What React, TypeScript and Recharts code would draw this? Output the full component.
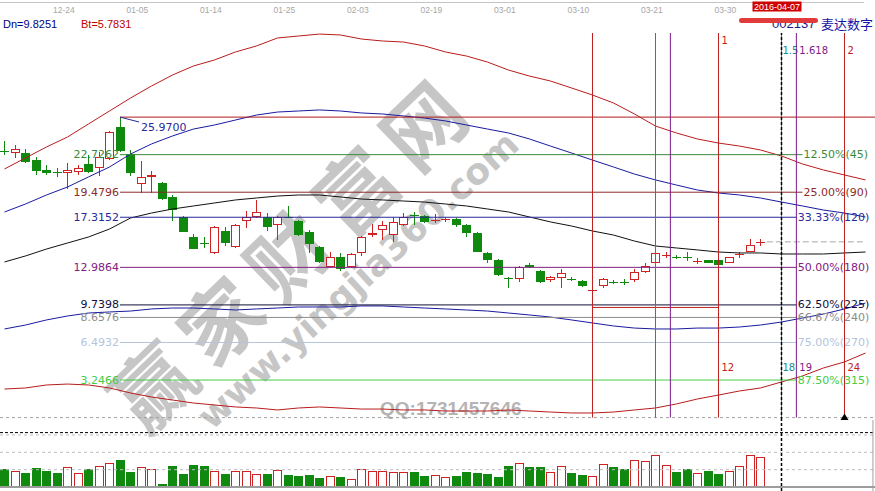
import React from 'react';
import { ComposedChart, Bar, Line, XAxis, YAxis, ReferenceLine, ReferenceDot } from 'recharts';

// trading days shown (2015-12-17 .. 2016-04-06)
const dates = [
  '12-17', '12-18', '12-21', '12-22', '12-23', '12-24', '12-25', '12-28', '12-29', '12-30', '12-31',
  '01-04', '01-05', '01-06', '01-07', '01-08', '01-11', '01-12', '01-13', '01-14', '01-15',
  '01-18', '01-19', '01-20', '01-21', '01-22', '01-25', '01-26', '01-27', '01-28', '01-29',
  '02-01', '02-02', '02-03', '02-04', '02-05', '02-15', '02-16', '02-17', '02-18', '02-19',
  '02-22', '02-23', '02-24', '02-25', '02-26', '02-29', '03-01', '03-02', '03-03', '03-04',
  '03-07', '03-08', '03-09', '03-10', '03-11', '03-14', '03-15', '03-16', '03-17', '03-18',
  '03-21', '03-22', '03-23', '03-24', '03-25', '03-28', '03-29', '03-30', '03-31', '04-01',
  '04-05', '04-06',
];

const opens = [
  23.06, 22.87, 22.87, 22.26, 21.4, 21.27, 21.14, 21.23, 21.92, 21.57,
  22.35, 25.12, 22.78, 20.19, 20.79, 20.28, 19.07, 17.34, 15.61, 15.11,
  14.23, 16.13, 14.74, 16.99, 17.34, 17.34, 16.65, 17.36, 16.99, 16.04,
  14.74, 13.02, 13.88, 13.02, 14.23, 15.78, 16.21, 15.78, 16.65, 17.53,
  17.42, 17.06, 17.15, 17.16, 16.65, 15.95, 14.23, 13.62, 12.09, 11.98,
  13.19, 12.67, 11.89, 12.07, 12.0, 11.81, 11.01, 11.37, 11.74, 11.74,
  11.89, 12.58, 13.36, 14.02, 13.9, 13.9, 13.52, 13.62, 13.62, 13.36,
  14.12, 14.31, 15.17,
];
const highs = [
  23.91, 23.56, 23.21, 22.52, 21.83, 21.57, 22.0, 21.83, 22.7, 22.96,
  24.77, 25.97, 23.13, 22.18, 21.31, 20.36, 19.24, 17.42, 15.87, 15.61,
  16.56, 16.47, 16.73, 17.86, 18.81, 17.68, 17.42, 18.29, 17.08, 16.21,
  14.83, 14.31, 14.23, 14.23, 15.69, 16.73, 16.99, 17.34, 17.68, 17.77,
  17.51, 17.6, 17.34, 17.21, 16.73, 16.04, 14.31, 13.71, 12.15, 13.1,
  13.36, 12.76, 12.24, 12.84, 12.15, 11.89, 11.37, 12.07, 11.89, 11.98,
  12.84, 13.36, 14.31, 14.31, 14.05, 14.31, 13.79, 13.66, 13.66, 13.92,
  14.31, 15.44, 15.44,
];
const lows = [
  22.7, 22.44, 22.0, 20.97, 20.97, 20.79, 19.76, 20.97, 21.14, 20.88,
  22.26, 22.96, 20.88, 19.41, 19.41, 18.85, 16.99, 16.0, 14.53, 14.66,
  14.18, 14.83, 14.66, 16.4, 17.25, 16.13, 15.35, 17.21, 15.69, 14.23,
  13.36, 12.93, 12.67, 12.93, 13.97, 15.61, 15.35, 15.18, 16.6, 16.65,
  16.82, 16.82, 16.9, 16.47, 15.61, 14.27, 13.36, 12.24, 11.2, 11.72,
  12.93, 11.63, 11.72, 11.2, 11.81, 11.29, 10.98, 11.2, 11.55, 11.46,
  11.72, 12.5, 13.32, 13.79, 13.71, 13.54, 13.28, 13.32, 13.15, 13.32,
  13.79, 14.27, 14.83,
];
const closes = [
  23.02, 23.21, 22.09, 21.31, 21.14, 21.23, 21.4, 21.57, 21.23, 22.52,
  24.68, 23.04, 21.14, 20.79, 20.97, 18.89, 17.94, 16.04, 14.57, 15.07,
  16.47, 15.09, 16.65, 17.34, 17.77, 16.47, 17.34, 17.32, 15.78, 15.0,
  13.45, 13.88, 12.84, 14.14, 15.61, 15.95, 16.65, 16.9, 17.34, 17.49,
  16.9, 17.1, 17.19, 16.65, 15.95, 14.31, 13.62, 12.32, 12.05, 13.02,
  13.02, 11.72, 12.15, 12.5, 11.96, 11.37, 11.05, 11.98, 11.7, 11.7,
  12.58, 13.1, 14.23, 14.06, 13.86, 13.86, 13.56, 13.36, 13.19, 13.88,
  14.16, 14.92, 15.21,
];
const volumes = [
  17.7, 16.3, 14, 19, 16.3, 14, 20, 14.3, 17.7, 21,
  23.7, 27, 15, 19.7, 17.7, 3, 21.3, 13, 22, 21,
  16.3, 13, 16.3, 16.3, 13, 13, 17, 11.7, 11, 12,
  8.7, 11, 9.7, 7.7, 17.7, 16.3, 16.3, 15.3, 15.3, 15.3,
  11, 12, 9.7, 11, 15.3, 14.3, 13, 10.3, 21, 24.3,
  20.3, 20.3, 15, 21, 14.3, 12, 11, 23, 20.3, 17.7,
  27, 26.3, 32, 22, 15.3, 17.7, 13.7, 16.3, 13, 16.3,
  21, 32, 29.7,
];

// band lines, read every second day (index 0, 2, 4 ... 82)
const upper2 = [
  21.49, 22.44, 23.39, 24.25, 25.38, 26.5, 27.62, 28.66, 29.61, 30.39, 30.91, 31.6, 32.12, 32.81,
  32.98, 33.15, 33.07, 32.72, 32.55, 32.46, 32.12, 31.6, 31.25, 30.73, 30.04, 29.52, 29.09, 28.49,
  27.88, 27.19, 26.24, 25.2, 24.6, 24.08, 23.73, 23.47, 23.13, 22.61, 21.92, 21.4, 20.97, 20.54,
];
const upper1 = [
  17.77, 18.46, 19.24, 19.93, 20.8, 21.66, 22.78, 23.65, 24.34, 24.94, 25.29, 25.72, 26.15, 26.41,
  26.5, 26.59, 26.5, 26.33, 26.24, 26.07, 25.89, 25.64, 25.29, 24.94, 24.6, 24.08, 23.47, 22.87,
  22.26, 21.66, 21.05, 20.54, 20.1, 19.67, 19.41, 19.24, 18.98, 18.63, 18.29, 17.94, 17.68, 17.34,
];
const middle = [
  13.45, 13.97, 14.57, 15.09, 15.61, 16.3, 17.25, 17.68, 18.03, 18.29, 18.55, 18.81, 18.98, 19.15,
  19.24, 19.24, 19.07, 18.89, 18.81, 18.72, 18.63, 18.46, 18.29, 18.03, 17.77, 17.34, 16.91, 16.56,
  16.13, 15.78, 15.26, 14.83, 14.66, 14.49, 14.31, 14.23, 14.23, 14.14, 14.14, 14.14, 14.23, 14.31,
];
const lower1 = [
  7.66, 8.0, 8.44, 8.78, 9.04, 9.13, 9.21, 9.39, 9.47, 9.47, 9.39, 9.3, 9.39, 9.47,
  9.56, 9.56, 9.56, 9.65, 9.65, 9.56, 9.47, 9.39, 9.3, 9.21, 9.04, 8.87, 8.69, 8.44,
  8.18, 7.92, 7.74, 7.66, 7.66, 7.74, 7.74, 7.83, 8.0, 8.26, 8.61, 8.95, 9.39, 9.9,
];
const lower2 = [
  2.47, 2.56, 2.82, 2.9, 2.82, 2.56, 2.13, 1.78, 1.52, 1.26, 1.09, 0.92, 0.83, 0.66,
  0.83, 0.92, 0.83, 0.74, 0.74, 0.66, 0.66, 0.57, 0.57, 0.57, 0.66, 0.57, 0.48, 0.4,
  0.4, 0.48, 0.66, 0.83, 1.18, 1.61, 1.95, 2.3, 2.56, 3.08, 3.6, 4.29, 4.81, 5.58,
];

// gann-style levels from the 25.97 top
const levelValues = [25.97, 22.7262, 19.4796, 17.3152, 12.9864, 9.7398, 8.6576, 6.4932, 3.2466];
const levelPercents = ['', '12.50%(45)', '25.00%(90)', '33.33%(120)', '50.00%(180)', '62.50%(225)', '66.67%(240)', '75.00%(270)', '87.50%(315)'];
const topIdx = 11;

// fibonacci time lines
const fibRatios = [0, 0.5, 0.618, 1, 1.5, 1.618, 2];
const fibStart = 56;
const fibUnit = 12;

const tickIdx = [5, 12, 19, 26, 33, 40, 47, 54, 61, 68];
const lastPrice = 15.19;
const boxLevel = 9.52;
const cursorIdx = 74;
const cursorDate = '2016-04-07';
const volGrid = [17.3, 34.7, 52];

const RED = '#d02222';
const GREEN = '#0f8a0f';
const X_MIN = -0.4286;
const X_MAX = 82.905;
const FIB_TOP = 33.24;

const levelColors = ['#b01c1c', '#3a8a3a', '#8c2a2a', '#2a2a9a', '#802080', '#10103a', '#8c8c8c', '#b4c4dc', '#44cc44'];
const levelEnds = [X_MAX, 76.0, 76.0, 75.45, 75.45, 75.45, 75.45, 75.45, 75.45];
const fibColors = ['#c02020', '#1a8c8c', '#7a1a8a', '#c02020', '#1a8c8c', '#7a1a8a', '#c02020'];

const rows = Array.from({ length: 83 }, (_, i) => {
  const r: Record<string, number | undefined> = { i };
  if (i < dates.length) {
    r.open = opens[i];
    r.high = highs[i];
    r.low = lows[i];
    r.close = closes[i];
    r.vol = volumes[i];
  }
  if (i % 2 === 0) {
    const k = i / 2;
    r.up2 = upper2[k];
    r.up1 = upper1[k];
    r.mid = middle[k];
    r.dn1 = lower1[k];
    r.dn2 = lower2[k];
  }
  return r;
});
const volRows = rows.slice(0, dates.length);

function Candle(props: any) {
  const { x, y, width, height, payload } = props;
  if (!payload || payload.high == null) return null;
  const { open, close, high, low } = payload;
  const top = Math.min(y, y + height);
  const bottom = Math.max(y, y + height);
  const toPx = (v: number) => bottom - ((v - low) / (high - low)) * (bottom - top);
  const up = close >= open;
  const color = up ? RED : GREEN;
  const c = Math.round(x + width / 2);
  const yh = Math.round(top);
  const yl = Math.round(bottom);
  const bt = Math.round(toPx(Math.max(open, close)));
  const bb = Math.round(toPx(Math.min(open, close)));
  const wx = c + 0.5;
  if (bb - bt < 2) {
    return (
      <g stroke={color}>
        <line x1={wx} x2={wx} y1={yh} y2={yl} />
        <line x1={c - 4} x2={c + 5} y1={bt + 0.5} y2={bt + 0.5} />
      </g>
    );
  }
  if (up) {
    return (
      <g stroke={color}>
        {bt > yh && <line x1={wx} x2={wx} y1={yh} y2={bt} />}
        {yl > bb && <line x1={wx} x2={wx} y1={bb} y2={yl} />}
        <rect x={c - 3.5} y={bt + 0.5} width={8} height={bb - bt - 1} fill="#fff" />
      </g>
    );
  }
  return (
    <g>
      <line x1={wx} x2={wx} y1={yh} y2={yl} stroke={color} />
      <rect x={c - 4} y={bt} width={9} height={bb - bt} fill={color} />
    </g>
  );
}

function VolumeBar(props: any) {
  const { x, y, width, height, payload } = props;
  if (!payload || height <= 0) return null;
  const up = payload.close >= payload.open;
  const l = Math.round(x);
  const t = Math.round(y);
  const h = Math.round(height);
  if (up) {
    return <rect x={l + 0.5} y={t + 0.5} width={Math.round(width) - 1} height={h - 1} fill="#fff" stroke={RED} />;
  }
  return <rect x={l} y={t} width={Math.round(width)} height={h} fill={GREEN} />;
}

function DateTick(props: any) {
  const { x, payload } = props;
  return (
    <text x={x - 4} y={12.5} fontSize={8.5} fill="#a6a6a6" fontFamily="'Liberation Sans', Arial">
      {dates[payload.value]}
    </text>
  );
}

function LevelLabel({ viewBox, left, right, color }: any) {
  if (!viewBox) return null;
  const { x, y, width } = viewBox;
  return (
    <g fontFamily="'DejaVu Sans'" fontSize={11} fill={color}>
      {left ? (
        <text x={x - 1} y={y} textAnchor="end" dominantBaseline="central">
          {left}
        </text>
      ) : null}
      {right ? (
        <text x={x + width + 1} y={y} dominantBaseline="central">
          {right}
        </text>
      ) : null}
    </g>
  );
}

function FibLabel({ viewBox, ratio, color }: any) {
  if (!viewBox || ratio < 1) return null;
  const { x, y, height } = viewBox;
  const dx = ratio === 1.5 ? 1 : 3;
  return (
    <g fontFamily="'DejaVu Sans'" fontSize={10} fill={color}>
      <text x={x + dx} y={y + (ratio === 1 ? 7 : 17)} dominantBaseline="central">
        {String(ratio)}
      </text>
      <text x={x + dx} y={y + height - 50} dominantBaseline="central">
        {Math.round(ratio * fibUnit)}
      </text>
    </g>
  );
}

function Triangle(props: any) {
  const { cx, cy } = props;
  return <path d={`M${cx - 4},${cy + 2.4} L${cx + 4},${cy + 2.4} L${cx},${cy - 4} Z`} fill="#000" />;
}

function Watermark() {
  return (
    <svg width={875} height={491} style={{ position: 'absolute', left: 0, top: 0 }}>
      <text
        x={290}
        y={248}
        fontSize={80}
        fontWeight={700}
        fill="#c6c6c6"
        fontFamily="'Noto Sans CJK SC'"
        textAnchor="middle"
        dominantBaseline="central"
        letterSpacing={14}
        transform="rotate(-44 290 248)"
      >
        赢家财富网
      </text>
      <text
        x={358}
        y={280}
        fontSize={36}
        fontWeight={700}
        fill="#c6c6c6"
        fontFamily="'DejaVu Sans'"
        textAnchor="middle"
        dominantBaseline="central"
        transform="rotate(-42.5 358 280)"
      >
        www.yingjia360.com
      </text>
      <text x={380} y={415} fontSize={19} fontWeight={700} fill="#b4b4b4" fontFamily="'Liberation Sans'">
        QQ:1731457646
      </text>
    </svg>
  );
}

export default function App() {
  return (
    <div style={{ position: 'absolute', left: 0, top: 0, width: 875, height: 491, background: '#fff', overflow: 'hidden' }}>
      <Watermark />
      <div style={{ position: 'absolute', left: 0, top: 2, width: 864, height: 1, background: '#c4c4c4' }} />
      <div style={{ position: 'absolute', left: 0, top: 0 }}>
        <ComposedChart width={875} height={420} data={rows} margin={{ top: 0, right: 0, bottom: 2.4, left: 0 }}>
          <XAxis
            type="number"
            dataKey="i"
            domain={[X_MIN, X_MAX]}
            allowDataOverflow
            orientation="top"
            height={30}
            ticks={tickIdx}
            interval={0}
            axisLine={false}
            tickLine={false}
            tick={<DateTick />}
          />
          <YAxis type="number" domain={[0, 33.5]} allowDataOverflow hide />
          <ReferenceLine y={0} stroke="#a0a0a0" strokeDasharray="3 3" />
          <Line dataKey="up2" stroke="#b81c1c" dot={false} connectNulls isAnimationActive={false} />
          <Line dataKey="up1" stroke="#1a1aa0" dot={false} connectNulls isAnimationActive={false} />
          <Line dataKey="mid" stroke="#111" dot={false} connectNulls isAnimationActive={false} />
          <Line dataKey="dn1" stroke="#1a1aa0" dot={false} connectNulls isAnimationActive={false} />
          <Line dataKey="dn2" stroke="#b81c1c" dot={false} connectNulls isAnimationActive={false} />
          {levelValues.map((v, k) => (
            <ReferenceLine
              key={`lv${k}`}
              segment={[{ x: topIdx, y: v }, { x: levelEnds[k], y: v }]}
              stroke={levelColors[k]}
              label={(p: any) => (
                <LevelLabel viewBox={p.viewBox} left={k === 0 ? '' : v.toFixed(4)} right={levelPercents[k]} color={levelColors[k]} />
              )}
            />
          ))}
          <ReferenceLine
            segment={[{ x: topIdx, y: levelValues[0] }, { x: 12.81, y: 25.55 }]}
            stroke="#2a2a9a"
            label={(p: any) =>
              p.viewBox ? (
                <text
                  x={p.viewBox.x + p.viewBox.width + 2}
                  y={p.viewBox.y + p.viewBox.height + 5.5}
                  fontFamily="'DejaVu Sans'"
                  fontSize={11}
                  fill="#2a2a9a"
                  dominantBaseline="central"
                >
                  {levelValues[0].toFixed(4)}
                </text>
              ) : null
            }
          />
          <ReferenceLine segment={[{ x: fibStart, y: boxLevel }, { x: fibStart + fibUnit, y: boxLevel }]} stroke="#c02020" />
          <ReferenceLine segment={[{ x: 72.6, y: lastPrice }, { x: 81.8, y: lastPrice }]} stroke="#a8a8a8" strokeDasharray="6 3" />
          {fibRatios.map((r, k) => {
            const xi = fibStart + fibUnit * r;
            return (
              <ReferenceLine
                key={`fb${k}`}
                segment={[{ x: xi, y: 0 }, { x: xi, y: FIB_TOP }]}
                stroke={fibColors[k]}
                label={(p: any) => <FibLabel viewBox={p.viewBox} ratio={r} color={fibColors[k]} />}
              />
            );
          })}
          <ReferenceLine
            segment={[{ x: cursorIdx, y: -0.2 }, { x: cursorIdx, y: FIB_TOP }]}
            ifOverflow="visible"
            stroke="#000"
            strokeWidth={1.5}
            strokeDasharray="3 2"
            label={(p: any) =>
              p.viewBox ? (
                <g>
                  <rect x={p.viewBox.x - 29} y={1.5} width={49} height={10} fill="#d00000" />
                  <text
                    x={p.viewBox.x - 4.5}
                    y={7}
                    fontFamily="'Liberation Sans', Arial"
                    fontSize={9}
                    fill="#fff"
                    textAnchor="middle"
                    dominantBaseline="central"
                  >
                    {cursorDate}
                  </text>
                </g>
              ) : null
            }
          />
          <ReferenceDot x={fibStart + fibUnit * 2} y={0} shape={<Triangle />} />
          <Bar dataKey={(d: any) => (d.high == null ? null : [d.low, d.high])} barSize={8} shape={<Candle />} isAnimationActive={false} />
        </ComposedChart>
      </div>
      <div style={{ position: 'absolute', left: 0, top: 420 }}>
        <ComposedChart width={875} height={71} data={volRows} margin={{ top: 12, right: 0, bottom: 4, left: 0 }}>
          <XAxis type="number" dataKey="i" domain={[X_MIN, X_MAX]} allowDataOverflow hide />
          <YAxis type="number" domain={[0, 55]} allowDataOverflow hide />
          {volGrid.map((g) => (
            <ReferenceLine key={`vg${g}`} y={g} stroke="#bdbdbd" strokeDasharray="3 3" />
          ))}
          <ReferenceLine y={54.4} stroke="#000" strokeDasharray="3 2" />
          <Bar dataKey="vol" barSize={9} shape={<VolumeBar />} isAnimationActive={false} />
          <ReferenceLine y={0} stroke="#9c9c9c" strokeWidth={2} />
          <ReferenceLine segment={[{ x: cursorIdx, y: -4 }, { x: cursorIdx, y: 67 }]} ifOverflow="visible" stroke="#000" strokeWidth={1.5} strokeDasharray="3 2" />
          <ReferenceLine segment={[{ x: 82.71, y: -4 }, { x: 82.71, y: 67 }]} ifOverflow="visible" stroke="#a0a0a0" />
        </ComposedChart>
      </div>
      <span style={{ position: 'absolute', left: 3, top: 18, fontFamily: "'Liberation Sans', Arial", fontSize: 11, lineHeight: '13px', color: '#000080' }}>
        Dn=9.8251
      </span>
      <span style={{ position: 'absolute', left: 81, top: 18, fontFamily: "'Liberation Sans', Arial", fontSize: 11, lineHeight: '13px', color: '#c00000' }}>
        Bt=5.7831
      </span>
      <span style={{ position: 'absolute', left: 772, top: 17, fontFamily: "'Liberation Sans', Arial", fontSize: 13, lineHeight: '14px', color: '#1c1c8c' }}>
        002137
      </span>
      <span style={{ position: 'absolute', left: 821, top: 16, fontFamily: "'Noto Sans CJK SC'", fontSize: 13, lineHeight: '15px', color: '#1515a5' }}>
        麦达数字
      </span>
      <div style={{ position: 'absolute', left: 739, top: 18, width: 79, height: 5, borderRadius: 3, background: '#e23b3b' }} />
    </div>
  );
}
